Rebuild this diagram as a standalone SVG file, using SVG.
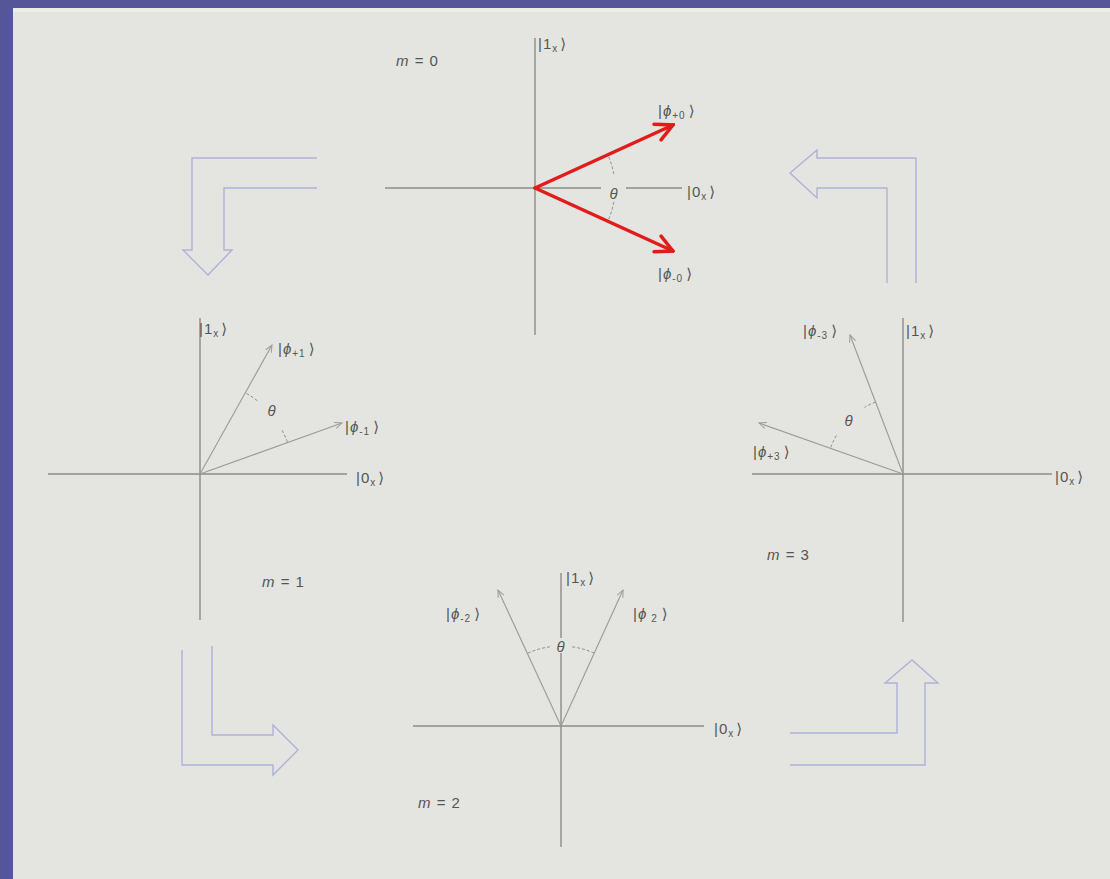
<svg xmlns="http://www.w3.org/2000/svg" width="1110" height="879" viewBox="0 0 1110 879">
<style>
.axis{stroke:#8c8c8c;stroke-width:1.4;fill:none}
.vec{stroke:#9a9a9a;stroke-width:1.1;fill:none;marker-end:url(#thin)}
.red{stroke:#e21b1b;stroke-width:3.5;fill:none;stroke-linecap:round;marker-end:url(#redhead)}
.arc{stroke:#8c8c8c;stroke-width:1;fill:none;stroke-dasharray:3 2}
.blk{stroke:#afb1d8;stroke-width:1.4;fill:none;stroke-linejoin:miter}
text{font-family:"Liberation Sans","DejaVu Sans",sans-serif;font-size:15px;fill:#555;letter-spacing:1px}
.it{font-style:italic}
.sub{font-size:10px}
</style>
<defs>
<marker id="thin" markerUnits="userSpaceOnUse" viewBox="0 0 10 10" refX="9" refY="5" markerWidth="9" markerHeight="9" orient="auto">
<path d="M1,1.5 L9,5 L1,8.5" fill="none" stroke="#9a9a9a" stroke-width="1.1"/>
</marker>
<marker id="redhead" markerUnits="userSpaceOnUse" viewBox="0 0 22 22" refX="20" refY="11" markerWidth="22" markerHeight="22" orient="auto">
<path d="M3,2.5 L20,11 L3,19.5" fill="none" stroke="#e21b1b" stroke-width="3.5" stroke-linecap="round" stroke-linejoin="miter"/>
</marker>
</defs>
<rect x="0" y="0" width="1110" height="879" fill="#55559a"/>
<rect x="13" y="8" width="1097" height="871" fill="#e4e5e0"/>
<rect x="13" y="8" width="1097" height="4" fill="#eceee6"/>

<g id="connectors">
<path class="blk" d="M317,158 H192 V250 H183 L208,275 L232,250 H224 V188 H317"/>
<path class="blk" d="M887,283 V188 H817 V198 L790,173 L817,150 V158 H916 V283"/>
<path class="blk" d="M212,646 V735 H273 V725 L298,750 L273,775 V765 H182 V650"/>
<path class="blk" d="M790,733 H897 V683 H885 L912,660 L938,683 H925 V765 H790"/>
</g>

<g id="m0">
<line class="axis" x1="535" y1="38" x2="535" y2="335"/>
<line class="axis" x1="385" y1="188" x2="682" y2="188"/>
<rect x="601" y="182" width="25" height="14" fill="#e4e5e0"/>
<path class="arc" d="M613.8,174.1 A80,80 0 0 0 607.8,154.8"/>
<path class="arc" d="M613.8,201.9 A80,80 0 0 1 607.8,221.2"/>
<line class="red" x1="535" y1="188" x2="673" y2="125"/>
<line class="red" x1="535" y1="188" x2="673" y2="251"/>
<text x="396" y="66" class="it">m<tspan font-style="normal"> = 0</tspan></text>
<text x="538" y="49">|1<tspan class="sub" dy="3">x</tspan><tspan dy="-3" dx="2">⟩</tspan></text>
<text x="687" y="197">|0<tspan class="sub" dy="3">x</tspan><tspan dy="-3" dx="2">⟩</tspan></text>
<text x="658" y="116">|<tspan class="it">ϕ</tspan><tspan class="sub" dy="3">+0</tspan><tspan dy="-3" dx="3">⟩</tspan></text>
<text x="658" y="279">|<tspan class="it">ϕ</tspan><tspan class="sub" dy="3">-0</tspan><tspan dy="-3" dx="3">⟩</tspan></text>
<text x="614" y="199" class="it" text-anchor="middle">θ</text>
</g>

<g id="m1">
<line class="axis" x1="200" y1="318" x2="200" y2="620"/>
<line class="axis" x1="48" y1="474" x2="347" y2="474"/>
<path class="arc" d="M257.3,400.7 A93,93 0 0 0 245.4,392.8"/>
<path class="arc" d="M282.1,430.3 A93,93 0 0 1 287.5,442.5"/>
<line class="vec" x1="200" y1="474" x2="272" y2="345"/>
<line class="vec" x1="200" y1="474" x2="342" y2="423"/>
<text x="262" y="587" class="it">m<tspan font-style="normal"> = 1</tspan></text>
<text x="199" y="334">|1<tspan class="sub" dy="3">x</tspan><tspan dy="-3" dx="2">⟩</tspan></text>
<text x="356" y="483">|0<tspan class="sub" dy="3">x</tspan><tspan dy="-3" dx="2">⟩</tspan></text>
<text x="278" y="354">|<tspan class="it">ϕ</tspan><tspan class="sub" dy="3">+1</tspan><tspan dy="-3" dx="3">⟩</tspan></text>
<text x="345" y="432">|<tspan class="it">ϕ</tspan><tspan class="sub" dy="3">-1</tspan><tspan dy="-3" dx="3">⟩</tspan></text>
<text x="272" y="416" class="it" text-anchor="middle">θ</text>
</g>

<g id="m2">
<line class="axis" x1="561" y1="573" x2="561" y2="847"/>
<line class="axis" x1="413" y1="726" x2="704" y2="726"/>
<rect x="552" y="638" width="18" height="15" fill="#e4e5e0"/>
<path class="arc" d="M594.2,653.2 A80,80 0 0 0 572.1,646.8"/>
<path class="arc" d="M549.9,646.8 A80,80 0 0 0 527.8,653.2"/>
<line class="vec" x1="561" y1="726" x2="498" y2="590"/>
<line class="vec" x1="561" y1="726" x2="623" y2="590"/>
<text x="418" y="808" class="it">m<tspan font-style="normal"> = 2</tspan></text>
<text x="566" y="583">|1<tspan class="sub" dy="3">x</tspan><tspan dy="-3" dx="2">⟩</tspan></text>
<text x="714" y="734">|0<tspan class="sub" dy="3">x</tspan><tspan dy="-3" dx="2">⟩</tspan></text>
<text x="446" y="619">|<tspan class="it">ϕ</tspan><tspan class="sub" dy="3">-2</tspan><tspan dy="-3" dx="3">⟩</tspan></text>
<text x="633" y="619">|<tspan class="it">ϕ</tspan><tspan class="sub" dy="3" dx="4">2</tspan><tspan dy="-3" dx="4">⟩</tspan></text>
<text x="561" y="652" class="it" text-anchor="middle">θ</text>
</g>

<g id="m3">
<line class="axis" x1="903" y1="318" x2="903" y2="622"/>
<line class="axis" x1="752" y1="474" x2="1052" y2="474"/>
<path class="arc" d="M875.5,402.1 A77,77 0 0 0 864.5,407.3"/>
<path class="arc" d="M836.3,435.5 A77,77 0 0 0 830.5,448.2"/>
<line class="vec" x1="903" y1="474" x2="850" y2="335"/>
<line class="vec" x1="903" y1="474" x2="759" y2="423"/>
<text x="767" y="560" class="it">m<tspan font-style="normal"> = 3</tspan></text>
<text x="906" y="336">|1<tspan class="sub" dy="3">x</tspan><tspan dy="-3" dx="2">⟩</tspan></text>
<text x="1055" y="482">|0<tspan class="sub" dy="3">x</tspan><tspan dy="-3" dx="2">⟩</tspan></text>
<text x="803" y="336">|<tspan class="it">ϕ</tspan><tspan class="sub" dy="3">-3</tspan><tspan dy="-3" dx="3">⟩</tspan></text>
<text x="753" y="457">|<tspan class="it">ϕ</tspan><tspan class="sub" dy="3">+3</tspan><tspan dy="-3" dx="3">⟩</tspan></text>
<text x="849" y="426" class="it" text-anchor="middle">θ</text>
</g>
</svg>
